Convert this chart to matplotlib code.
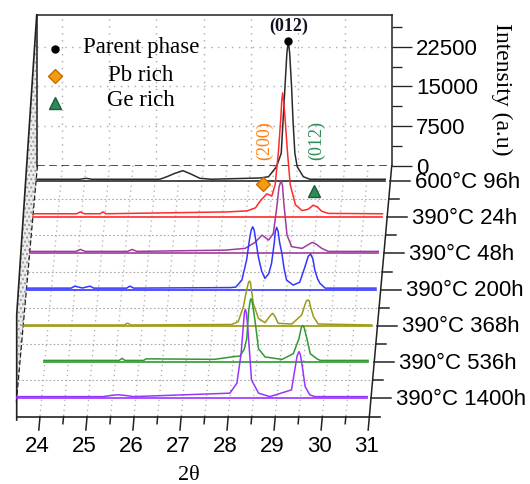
"""XRD waterfall: 600°C parent phase vs. 390°C anneals, drawn as an oblique 3D stack."""

import matplotlib

matplotlib.use("Agg")
import matplotlib.pyplot as plt
import numpy as np
from matplotlib.patches import Polygon
from matplotlib.ticker import MultipleLocator

SANS = ["Liberation Sans", "DejaVu Sans"]
SERIF = ["Liberation Serif", "DejaVu Serif"]
plt.rcParams["font.family"] = SANS

# ---- data (2theta in degrees, intensity in counts above each trace's base) ----
LABELS = ["600°C 96h", "390°C 24h", "390°C 48h", "390°C 200h",
          "390°C 368h", "390°C 536h", "390°C 1400h"]
COLORS = ["#2b2b2b", "#ff2a2a", "#9e3c9e", "#3535ff", "#9a9a14", "#2f9a2f", "#9a33ff"]

TT_600_96 = [23.49, 24.40, 24.53, 24.66, 26.10, 26.25, 26.41, 26.59, 26.76, 26.95, 27.20,
             28.23, 28.41, 28.58, 28.68, 28.72, 28.76, 28.80, 28.83, 28.86, 28.90, 28.93,
             28.97, 29.02, 29.15, 29.29, 30.89]
I_600_96 = [330, 330, 500, 330, 330, 810, 1420, 1950, 1320, 510, 330,
            570, 810, 2710, 5240, 11530, 17830, 24140, 26530, 24140, 17830, 11530,
            5240, 2710, 810, 330, 330]

TT_390_24 = [23.48, 24.40, 24.48, 24.56, 24.90, 24.96, 25.02, 27.60, 28.02, 28.20, 28.30,
             28.44, 28.55, 28.62, 28.69, 28.74, 28.76, 28.78, 28.80, 28.83, 28.88, 28.94,
             29.05, 29.19, 29.32, 29.43, 29.52, 29.61, 29.75, 30.90]
I_390_24 = [650, 650, 1000, 650, 650, 1000, 650, 1000, 1190, 1760, 3030,
            4400, 4030, 6160, 12480, 18780, 22000, 23500, 22000, 18780, 12480, 6160,
            2380, 1250, 1500, 2270, 1900, 1130, 720, 650]

TT_390_48 = [23.48, 24.45, 24.55, 24.65, 25.55, 25.65, 25.75, 27.63, 28.05, 28.26, 28.41,
             28.55, 28.65, 28.72, 28.77, 28.80, 28.82, 28.845, 28.87, 28.94, 29.04, 29.26,
             29.42, 29.48, 29.55, 29.68, 29.82, 30.88]
I_390_48 = [380, 380, 750, 380, 380, 750, 380, 620, 950, 2080, 3460,
            2520, 3780, 8510, 12500, 13400, 13700, 12800, 9780, 3460, 1270, 950,
            1800, 2080, 1800, 950, 380, 380]

TT_390_200 = [23.48, 24.42, 24.50, 24.66, 24.82, 24.90, 25.60, 25.67, 25.75, 27.80, 27.92,
              28.05, 28.15, 28.22, 28.25, 28.28, 28.31, 28.36, 28.40, 28.47, 28.54, 28.62,
              28.68, 28.74, 28.76, 28.79, 28.82, 28.85, 28.90, 28.95, 29.00, 29.14, 29.28,
              29.39, 29.46, 29.51, 29.56, 29.60, 29.66, 29.71, 29.82, 30.90]
I_390_200 = [280, 280, 650, 300, 650, 280, 280, 650, 280, 380, 470,
             1800, 5580, 9980, 11300, 11880, 11300, 8500, 6200, 3500, 2120, 3000,
             4950, 9000, 11000, 11760, 11000, 9000, 6850, 3800, 1800, 850, 1400,
             4310, 6300, 6710, 5800, 3690, 2000, 1170, 280, 280]

TT_390_368 = [23.49, 25.62, 25.69, 25.76, 27.90, 28.04, 28.15, 28.22, 28.26, 28.28, 28.30,
              28.36, 28.47, 28.61, 28.72, 28.77, 28.82, 28.89, 29.18, 29.39, 29.46, 29.49,
              29.52, 29.55, 29.58, 29.64, 29.74, 30.88]
I_390_368 = [150, 150, 500, 150, 250, 780, 3610, 6800, 8200, 8470, 8200,
             4250, 1420, 590, 1900, 2360, 1800, 470, 340, 2040, 4000, 4700,
             4880, 4700, 3500, 1720, 340, 150]

TT_390_536 = [23.98, 25.58, 25.64, 25.70, 26.10, 26.15, 27.60, 28.01, 28.15, 28.24, 28.29,
              28.33, 28.36, 28.38, 28.40, 28.43, 28.47, 28.54, 28.68, 29.04, 29.28, 29.40,
              29.45, 29.48, 29.51, 29.57, 29.64, 29.78, 29.85, 30.87]
I_390_536 = [300, 300, 700, 300, 300, 600, 500, 1000, 1130, 2500, 4400,
             9450, 11500, 11970, 11600, 10000, 7560, 2510, 950, 490, 1570, 4410,
             6500, 6920, 6500, 4410, 1570, 620, 300, 300]

TT_390_1400 = [23.48, 25.30, 25.50, 25.62, 25.75, 25.95, 28.00, 28.15, 28.24, 28.28, 28.31,
               28.33, 28.35, 28.38, 28.41, 28.46, 28.61, 28.85, 29.31, 29.38, 29.43, 29.47,
               29.50, 29.54, 29.60, 29.70, 29.81, 30.92]
I_390_1400 = [300, 300, 550, 650, 550, 300, 950, 2840, 8510, 13000, 16200,
              16790, 16200, 13500, 9760, 3460, 950, 300, 1570, 5350, 8000, 8810,
              8200, 5980, 2190, 620, 300, 300]

TRACES = [(TT_600_96, I_600_96), (TT_390_24, I_390_24), (TT_390_48, I_390_48),
          (TT_390_200, I_390_200), (TT_390_368, I_390_368), (TT_390_536, I_390_536),
          (TT_390_1400, I_390_1400)]

# phase markers sit on the 390°C 24h trace
PB_RICH = (28.37, 6350)
GE_RICH = (29.45, 4920)

INT_TICKS = [0, 7500, 15000, 22500]
TT_MAJOR = list(range(24, 32))
TT_MINOR = [24.5, 25.5, 26.5, 27.5, 28.5, 29.5, 30.5]

# ---- oblique frame geometry (canvas pixels) ----
W, H = 530, 484
PX_DEG = 47.05        # px per degree along 2theta
CNT_PX = 189.1        # counts per px vertically
X24 = 40.0            # x of 2theta=24 on the front axis
AXIS_Y = 416.7        # y of the front axis
SLANT = 0.0892        # sideways px per px of depth
WALL_D = 251.0        # depth of the back wall (the dashed zero line)
BACK_D = 235.7        # depth of the rearmost trace
STEP_D = 36.2         # depth between traces
TT_MIN, TT_MAX = 23.47, 31.0


def proj(tt, inten, depth):
    tt = np.asarray(tt, float)
    inten = np.asarray(inten, float)
    depth = np.asarray(depth, float)
    return tt + depth * SLANT / PX_DEG, inten + depth * CNT_PX


def pix(x, y):
    return 24 + (x - X24) / PX_DEG, (AXIS_Y - y) * CNT_PX


fig = plt.figure(figsize=(W / 100, H / 100), dpi=100)
ax = fig.add_axes([0, 0, 1, 1])
ax.set_xlim(pix(0, 0)[0], pix(W, 0)[0])
ax.set_ylim(pix(0, H)[1], pix(0, 0)[1])
ax.axis("off")

EDGE = "#222222"
GRID = "#a9a9a9"

# back wall with the intensity axis
wx, wy = proj(TT_MIN, 0, WALL_D)
wtop = pix(0, 15)[1]
wall = ax.inset_axes([float(wx), float(wy), TT_MAX - TT_MIN, wtop - float(wy)],
                     transform=ax.transData, zorder=1)
wall.set_facecolor("none")
wall.set_xlim(TT_MIN, TT_MAX)
wall.set_ylim(0, wtop - float(wy))
wall.spines["bottom"].set_visible(False)
for s in ("top", "left", "right"):
    wall.spines[s].set_color(EDGE)
    wall.spines[s].set_linewidth(1.1)
wall.set_xticks(range(24, 31))
wall.tick_params(axis="x", length=0, labelbottom=False)
wall.yaxis.tick_right()
wall.set_yticks(INT_TICKS, [str(v) for v in INT_TICKS])
wall.yaxis.set_minor_locator(MultipleLocator(3750))
wall.tick_params(axis="y", which="major", length=14.4, width=0.95, color=EDGE,
                 pad=3, labelsize=16)
wall.tick_params(axis="y", which="minor", length=7.2, width=0.95, color=EDGE)
wall.grid(True, color=GRID, linestyle=(0, (1, 4)), linewidth=1.0)
wall.axhline(0, color=EDGE, linestyle=(0, (5, 3)), linewidth=1.1)
fig.text(501.7 / W, 1 - 89 / H, "Intensity (a.u)", rotation=270, ha="center",
         va="center", fontsize=17, family=SERIF)

# floor grid
for t in np.arange(24, 31, 0.5):
    gx, gy = proj([t, t], [0, 0], [WALL_D, 0])
    ax.plot(gx, gy, color=GRID, linestyle=(0, (1, 3)), linewidth=0.9, zorder=0.5)
for i in range(len(TRACES) - 1):
    dm = BACK_D - (i + 0.5) * STEP_D
    gx, gy = proj([TT_MIN, TT_MAX], [0, 0], [dm, dm])
    ax.plot(gx, gy, color=GRID, linestyle=(0, (1.5, 2)), linewidth=0.8, zorder=0.5)

# left side wall, seen almost edge-on
side = [pix(37.5, 15), pix(37.5, 165.7), pix(17, 398), pix(16.7, 420),
        pix(16.7, 315), pix(36.7, 15)]
ax.add_patch(Polygon(side, closed=True, facecolor="#ececec", edgecolor="#9a9a9a",
                     hatch="....", linewidth=0, zorder=0.6))
ox, oy = zip(pix(36.7, 15), pix(16.7, 315), pix(16.7, 420))
ax.plot(ox, oy, color=EDGE, linewidth=1.2, zorder=2)
lx, ly = proj([TT_MIN, TT_MIN], [0, 0], [WALL_D, 12])
ax.plot(lx, ly, color=EDGE, linestyle=(0, (4, 2)), linewidth=0.9, zorder=2)

# right edge with the trace labels
ex, ey = proj([TT_MAX, TT_MAX], [0, 0], [WALL_D, 0])
ax.plot(ex, ey, color=EDGE, linewidth=1.1, zorder=2)
MAJ, MIN_, GAP = 20 / PX_DEG, 10 / PX_DEG, 25 / PX_DEG
for i, lab in enumerate(LABELS):
    d = BACK_D - i * STEP_D
    x, y = proj(TT_MAX, 0, d)
    ax.plot([x, x + MAJ], [y, y], color=EDGE, linewidth=1.1, zorder=2)
    ax.text(x + GAP, y - 1.2 * CNT_PX, lab, ha="left", va="center", fontsize=16)
    if i < len(LABELS) - 1:
        x, y = proj(TT_MAX, 0, d - STEP_D / 2)
        ax.plot([x, x + MIN_], [y, y], color=EDGE, linewidth=1.1, zorder=2)

# front 2theta axis
fx, fy = proj([23.51, 31.23], [0, 0], [0, 0])
ax.plot(fx, fy, color=EDGE, linewidth=1.2, zorder=2)
for t in TT_MAJOR:
    tx, ty = proj([t, t], [0, 0], [0, -13.3])
    ax.plot(tx, ty, color=EDGE, linewidth=1.1, zorder=2)
    lx, ly = proj(t, 0, -29.8)
    ax.text(lx, ly, str(t), ha="center", va="center", fontsize=16)
for t in TT_MINOR:
    tx, ty = proj([t, t], [0, 0], [0, -7])
    ax.plot(tx, ty, color=EDGE, linewidth=1.1, zorder=2)
fig.text(189 / W, 1 - 475 / H, "2θ", ha="center", va="center", fontsize=16, family=SERIF)

# the traces, back to front
for i, ((tt, inten), col) in enumerate(zip(TRACES, COLORS)):
    d = BACK_D - i * STEP_D
    x, y = proj(tt, inten, d)
    ax.plot(x, y, color=col, linewidth=1.1, zorder=3 + i, solid_joinstyle="round")
    bx, by = proj([tt[0], tt[-1]], [0, 0], [d, d])
    ax.plot(bx, by, color=col, linewidth=1.2, zorder=3 + i)

# phase markers and reflection labels
k = int(np.argmax(I_600_96))
px_, py_ = proj(TT_600_96[k], I_600_96[k], BACK_D)
ax.plot(px_, py_, "o", color="black", markersize=5, zorder=12)
ax.annotate("(012)", (px_, py_), xytext=(0, 10), textcoords="offset points",
            ha="center", va="center", fontsize=13, fontweight="bold", family=SERIF,
            color="#111122")
d_red = BACK_D - STEP_D
dx_, dy_ = proj(*PB_RICH, d_red)
ax.plot(dx_, dy_, "D", color="#f39c12", markeredgecolor="#c86e00", markersize=7,
        zorder=12)
ax.annotate("(200)", (dx_, dy_), xytext=(1.2, 30.7), textcoords="offset points",
            rotation=90, ha="center", va="center", fontsize=13, family=SERIF,
            color="#ff7f0e")
gx_, gy_ = proj(*GE_RICH, d_red)
ax.plot(gx_, gy_, "^", color="#2e8b57", markeredgecolor="#1d5c39", markersize=8,
        zorder=12)
ax.annotate("(012)", (gx_, gy_), xytext=(1.4, 36.6), textcoords="offset points",
            rotation=90, ha="center", va="center", fontsize=13, family=SERIF,
            color="#2e8b57")

# legend, drawn by hand so the names can be centred
ax.plot(*pix(55, 49.3), "o", color="black", markersize=5, zorder=12)
ax.plot(*pix(55, 75.7), "D", color="#f39c12", markeredgecolor="#c86e00",
        markersize=7, zorder=12)
ax.plot(*pix(55, 102.7), "^", color="#2e8b57", markeredgecolor="#1d5c39",
        markersize=8, zorder=12)
for name, yy in (("Parent phase", 47.5), ("Pb rich", 75), ("Ge rich", 100.5)):
    ax.text(*pix(141, yy), name, ha="center", va="center", fontsize=16.5, family=SERIF)

fig.savefig("out.png", dpi=100)
plt.close(fig)
